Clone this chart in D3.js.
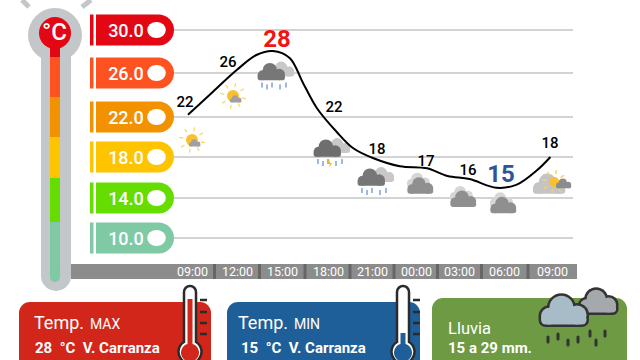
<!DOCTYPE html>
<html>
<head>
<meta charset="utf-8">
<script src="https://cdn.jsdelivr.net/npm/d3@7"></script>
<style>
html,body{margin:0;padding:0;background:#fff;overflow:hidden}
svg{display:block}
text{font-family:Roboto,sans-serif}
</style>
</head>
<body>
<svg id="chart" width="640" height="360"></svg>
<script>
// tick hours and labels
var tickHours = [0, 3, 6, 9, 12, 15, 18, 21, 24];
var tickLabels = ['09:00', '12:00', '15:00', '18:00', '21:00', '00:00', '03:00', '06:00', '09:00'];

// temperature scale
var tempTicks = [30, 26, 22, 18, 14, 10];
var tempColors = ['#e30613', '#ff5221', '#f39200', '#ffc400', '#66dd00', '#7fc9a4'];

// curve
var curveHours = [-0.27, 1.4, 3, 4.33, 5.4, 6.5, 7.37, 8.28, 9.6, 10.7, 12.06, 13.9, 15.77, 17.2, 18.7, 20.5, 21.8, 23.06, 23.9];
var curveTemps = [22.2, 24.3, 26.3, 27.7, 28.05, 27.4, 25.1, 22.8, 20.5, 18.9, 17.9, 17.1, 16.9, 16.15, 15.85, 15, 15.3, 16.7, 18];

// forecast per tick
var forecastTemps = [22, 26, 28, 22, 18, 17, 16, 15, 18];
var forecastSky = ['sun', 'sun', 'rain', 'storm', 'rain', 'cloud', 'cloud', 'cloud', 'sunny-cloud'];

var svg = d3.select('#chart');

var x = d3.scaleLinear().domain(tickHours).range([192, 237, 282, 328, 372, 416, 459, 504, 552]);
var y = d3.scaleLinear().domain([10, 14, 18, 22, 26, 30]).range([238, 198, 157, 117, 73, 30]);

/* ------- thermometer ------- */
var thermo = svg.append('g');
[[22, 0, 29, 7], [91, 0, 82, 7]].forEach(function (s) {
  thermo.append('line').attr('x1', s[0]).attr('y1', s[1]).attr('x2', s[2]).attr('y2', s[3])
    .attr('stroke', '#c4c7ca').attr('stroke-width', 5);
});
thermo.append('circle').attr('cx', 55).attr('cy', 35).attr('r', 27).attr('fill', '#c4c7ca');
thermo.append('rect').attr('x', 41).attr('y', 40).attr('width', 30).attr('height', 251).attr('rx', 15).attr('fill', '#c4c7ca');

var segEdges = [57, 97, 137, 178, 222, 282];
thermo.append('rect').attr('x', 50).attr('y', 30).attr('width', 10).attr('height', 30).attr('fill', tempColors[0]);
segEdges.slice(0, 5).forEach(function (top, i) {
  thermo.append('rect').attr('x', 50).attr('y', top).attr('width', 10)
    .attr('height', segEdges[i + 1] - top - (i == 4 ? 5 : 0)).attr('fill', tempColors[i + 1]);
});
thermo.append('rect').attr('x', 50).attr('y', 265).attr('width', 10).attr('height', 17).attr('rx', 5).attr('fill', tempColors[5]);
thermo.append('circle').attr('cx', 55).attr('cy', 33).attr('r', 16).attr('fill', tempColors[0]);
thermo.append('text').attr('x', 54.5).attr('y', 40).attr('text-anchor', 'middle')
  .attr('font-size', 24).attr('font-weight', 500).attr('fill', '#fff').text('°C');

/* ------- grid + pills ------- */
svg.append('g').selectAll('line').data(tempTicks).enter().append('line')
  .attr('x1', 170).attr('x2', 573)
  .attr('y1', function (d) { return y(d); }).attr('y2', function (d) { return y(d); })
  .attr('stroke', '#d3d3d3').attr('stroke-width', 2);

var pills = svg.append('g').selectAll('g').data(tempTicks).enter().append('g')
  .attr('transform', function (d) { return 'translate(0,' + y(d) + ')'; });
pills.append('rect').attr('x', 90).attr('y', -15.5).attr('width', 3.5).attr('height', 31)
  .attr('fill', function (d, i) { return tempColors[i]; });
pills.append('path').attr('d', 'M96,-15.5H158.5A15.5,15.5 0 0 1 158.5,15.5H96Z')
  .attr('fill', function (d, i) { return tempColors[i]; });
pills.append('ellipse').attr('cx', 156.5).attr('cy', 0).attr('rx', 9.3).attr('ry', 8).attr('fill', '#fff');
pills.append('text').attr('x', 126).attr('y', 6.5).attr('text-anchor', 'middle')
  .attr('font-size', 18).attr('font-weight', 500).attr('fill', '#fff')
  .text(function (d) { return d.toFixed(1); });

/* ------- time axis ------- */
svg.append('rect').attr('x', 71).attr('y', 264).attr('width', 506).attr('height', 15).attr('fill', '#8c8c8c');
var cellEdges = tickHours.slice(0, -1).map(function (h) { return x(h + 1.5); });
svg.append('g').selectAll('rect').data(cellEdges).enter().append('rect')
  .attr('x', function (d) { return d - 1.5; }).attr('y', 264).attr('width', 3).attr('height', 15).attr('fill', '#666');

var xAxis = d3.axisBottom(x).tickValues(tickHours).tickSize(0)
  .tickFormat(function (d, i) { return tickLabels[i]; });
var axisG = svg.append('g').attr('transform', 'translate(0,264)').call(xAxis);
axisG.select('.domain').remove();
axisG.selectAll('text').attr('y', 3).attr('dy', '0.71em')
  .style('font-family', 'Roboto,sans-serif').attr('font-size', 12.5).attr('font-weight', 400).attr('fill', '#fff');

/* ------- icons ------- */
function cloud(g, cx, cy, s, fill, stroke) {
  var parts = function (sel, extra) {
    var shapes = sel.append('g').attr('fill', extra ? stroke : fill);
    var grow = extra || 0;
    [[-13, 1, 7], [-3, -6, 10], [10, 0, 8]].forEach(function (c) {
      shapes.append('circle').attr('cx', cx + c[0] * s).attr('cy', cy + c[1] * s).attr('r', c[2] * s + grow);
    });
    shapes.append('rect').attr('x', cx - 20 * s - grow).attr('y', cy + 0 * s - grow)
      .attr('width', 38 * s + 2 * grow).attr('height', 8 * s + 2 * grow).attr('rx', 4 * s + grow);
  };
  if (stroke) parts(g, 2.5);
  parts(g);
}
function sun(g, cx, cy, r) {
  d3.range(8).forEach(function (i) {
    var a = i * Math.PI / 4 + 0.2;
    g.append('line')
      .attr('x1', cx + Math.cos(a) * (r + 3)).attr('y1', cy + Math.sin(a) * (r + 3))
      .attr('x2', cx + Math.cos(a) * (r + 7)).attr('y2', cy + Math.sin(a) * (r + 7))
      .attr('stroke', '#fbd36a').attr('stroke-width', 1.2);
  });
  g.append('circle').attr('cx', cx).attr('cy', cy).attr('r', r).attr('fill', '#fbc02d');
}
function drops(g, cx, cy, color) {
  [-12, -7, -2, 6, 12].forEach(function (dx, i) {
    g.append('line').attr('x1', cx + dx).attr('x2', cx + dx)
      .attr('y1', cy + (i % 2) * 2).attr('y2', cy + (i % 2) * 2 + 5)
      .attr('stroke', color).attr('stroke-width', 1.3);
  });
}
var drawSky = {
  'sun': function (g) {
    sun(g, 0, 0, 6);
    cloud(g, 3, 4, 0.3, '#a0a0a0');
  },
  'rain': function (g) {
    cloud(g, 9, -4, 0.62, '#c8c8c8');
    cloud(g, -2, -1, 0.72, '#777');
    drops(g, 0, 7, '#6f8fd0');
  },
  'storm': function (g) {
    cloud(g, 9, -4, 0.62, '#c8c8c8');
    cloud(g, -2, -1, 0.72, '#6e6e6e');
    drops(g, 0, 7, '#6f8fd0');
    g.append('path').attr('d', 'M-1,7L-3,12H0L-1,16L2,11H0Z').attr('fill', '#f5b700');
  },
  'cloud': function (g) {
    cloud(g, -1, -3, 0.6, '#d6d6d6');
    cloud(g, 1, 3, 0.68, '#8f8f8f');
  },
  'sunny-cloud': function (g) {
    sun(g, 1, -3, 5);
    cloud(g, -3, 2, 0.85, '#c4c4c4');
    sun(g, 1, -3, 5);
    cloud(g, 11, 0, 0.4, '#8c8c8c');
  }
};
// offsets of each icon from its reading on the curve
var iconDx = [0, -4, -8, 2, 2, 4, 4, -1, 1];
var iconDy = [23, 23, 24, 35, 24, 18, 21, 17, 28];
svg.append('g').selectAll('g').data(forecastSky).enter().append('g')
  .attr('transform', function (d, i) {
    return 'translate(' + (x(tickHours[i]) + iconDx[i]) + ',' + (y(forecastTemps[i]) + iconDy[i]) + ')';
  })
  .each(function (d) { drawSky[d](d3.select(this)); });

/* ------- curve ------- */
var curve = d3.line()
  .x(function (d) { return x(d); })
  .y(function (d, i) { return y(curveTemps[i]); })
  .curve(d3.curveCatmullRom);
svg.append('path').attr('d', curve(curveHours)).attr('fill', 'none').attr('stroke', '#000').attr('stroke-width', 2);

/* ------- value labels ------- */
var labelDx = [-7, -9, -5, 6, 5, 10, 9, -3, -2];
var labelDy = [-15, -11, -13, -10, -8, -7, -8, -14, -14];
var maxT = d3.max(forecastTemps), minT = d3.min(forecastTemps);
svg.append('g').selectAll('text').data(forecastTemps).enter().append('text')
  .attr('x', function (d, i) { return x(tickHours[i]) + labelDx[i]; })
  .attr('y', function (d, i) { return y(d) + labelDy[i]; })
  .attr('dy', '0.36em').attr('text-anchor', 'middle')
  .attr('font-weight', function (d) { return d == maxT || d == minT ? 700 : 500; })
  .attr('font-size', function (d) { return d == maxT || d == minT ? 24 : 15; })
  .attr('fill', function (d) { return d == maxT ? '#f01414' : d == minT ? '#2f5597' : '#000'; })
  .text(function (d) { return d; });

/* ------- bottom cards ------- */
function card(left, width, top, color) {
  svg.append('rect').attr('x', left).attr('y', top).attr('width', width).attr('height', 90).attr('rx', 11).attr('fill', color);
}
function thermometer(cx, level, color) {
  svg.append('path')
    .attr('d', 'M' + (cx - 6) + ',292A6,6 0 0 1 ' + (cx + 6) + ',292V342A11.5,11.5 0 1 1 ' + (cx - 6) + ',342Z')
    .attr('fill', '#fff').attr('stroke', '#2b2b2b').attr('stroke-width', 2.5);
  svg.append('path')
    .attr('d', 'M' + (cx - 2.5) + ',' + level + 'H' + (cx + 2.5) + 'V344A9,9 0 1 1 ' + (cx - 2.5) + ',344Z')
    .attr('fill', color);
  [300, 312, 323, 334].forEach(function (t) {
    svg.append('line').attr('x1', cx + 10).attr('x2', cx + 17).attr('y1', t).attr('y2', t)
      .attr('stroke', '#2b2b2b').attr('stroke-width', 2.5);
  });
}
function cardText(tx, ty, str, size, weight) {
  return svg.append('text').attr('x', tx).attr('y', ty).attr('font-size', size)
    .attr('font-weight', weight).attr('fill', '#fff').style('white-space', 'pre').text(str);
}

card(19, 192, 302, '#d2261a');
cardText(34, 329, 'Temp.', 18, 400);
cardText(90, 329, 'MAX', 14, 400);
cardText(35, 353, '28  °C  V. Carranza', 15, 700);
thermometer(190, 299, '#d2261a');

card(227, 193, 302, '#1f5f99');
cardText(238, 329, 'Temp.', 18, 400);
cardText(294, 329, 'MIN', 14, 400);
cardText(241, 353, '15  °C  V. Carranza', 15, 700);
thermometer(403, 333, '#1f5f99');

card(432, 195, 298, '#6d9a43');
cardText(448, 334, 'Lluvia', 16.5, 400);
cardText(448, 353, '15 a 29 mm.', 15, 700);
var rainG = svg.append('g');
cloud(rainG, 599, 305, 0.95, '#a5a9ad', '#333');
cloud(rainG, 565, 315, 1.2, '#a8bcc8', '#333');
[548, 558, 568, 578, 590, 605, 596].forEach(function (dx, i) {
  rainG.append('line').attr('x1', dx).attr('x2', dx)
    .attr('y1', 337 + [0, -3, 3, 0, -6, -6, 3][i]).attr('y2', 342 + [0, -3, 3, 0, -6, -6, 3][i])
    .attr('stroke', '#333').attr('stroke-width', 3).attr('stroke-linecap', 'round');
});
</script>
</body>
</html>
